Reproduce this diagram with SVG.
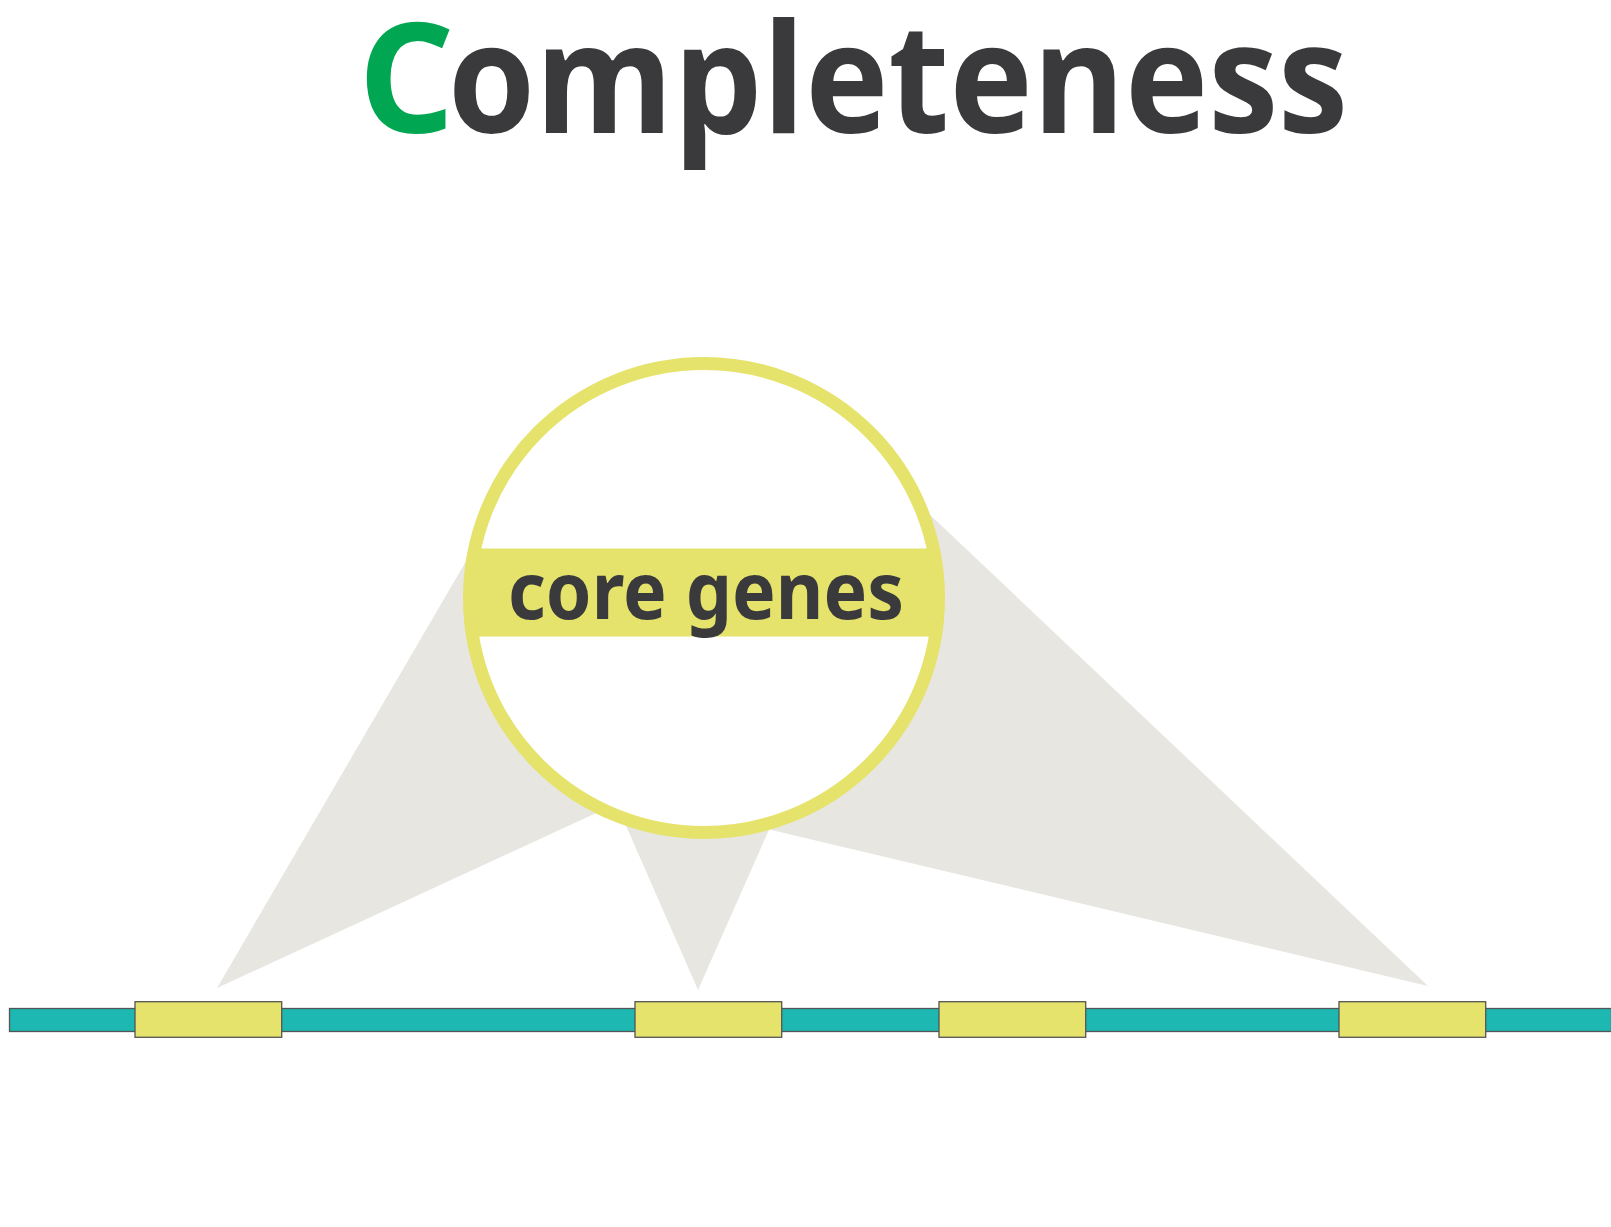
<svg xmlns="http://www.w3.org/2000/svg" width="1611" height="1227" viewBox="0 0 1611 1227">
  <defs>
    <style>
      .shade { fill: #e7e6e1; }
      .gene { fill: #e5e36b; stroke: #555; stroke-width: 1.3; }
      .title { font-family: "Open Sans", "Noto Sans", "Liberation Sans", sans-serif; font-weight: 700; fill: #3a3a3c; }
      .label { font-family: "Noto Sans", "Open Sans", "Liberation Sans", sans-serif; font-weight: 700; fill: #3a3a3c; }
    </style>
    <clipPath id="inner">
      <circle cx="704" cy="598" r="234"/>
    </clipPath>
  </defs>
  <rect width="1611" height="1227" fill="#fff"/>

  <g id="title">
    <text class="title" x="358" y="133" font-size="152" style="fill:#00a651">C</text>
    <text class="title" x="448" y="133" font-size="152" textLength="900" lengthAdjust="spacingAndGlyphs">ompleteness</text>
  </g>

  <g id="connectors">
    <polygon class="shade" points="217,988 500,503 620,802"/>
    <polygon class="shade" points="698,990 606,780 791,780"/>
    <polygon class="shade" points="1428,986 870,458 700,813"/>
  </g>

  <g id="lens">
    <circle cx="704" cy="598" r="234.5" fill="#fff" stroke="#e5e36b" stroke-width="13"/>
    <rect x="460" y="548.5" width="490" height="88" fill="#e5e36b" clip-path="url(#inner)"/>
    <text class="label" x="508" y="619" font-size="79" textLength="396" lengthAdjust="spacingAndGlyphs">core genes</text>
  </g>

  <g id="chromosome">
    <rect x="9.5" y="1008.5" width="1602" height="23" fill="#1db8b2" stroke="#555" stroke-width="1.3"/>
  </g>
  <g id="gene1"><rect class="gene" x="135" y="1001.7" width="146.7" height="35.6"/></g>
  <g id="gene2"><rect class="gene" x="635" y="1001.7" width="146.7" height="35.6"/></g>
  <g id="gene3"><rect class="gene" x="939" y="1001.7" width="146.7" height="35.6"/></g>
  <g id="gene4"><rect class="gene" x="1339" y="1001.7" width="146.7" height="35.6"/></g>
</svg>
